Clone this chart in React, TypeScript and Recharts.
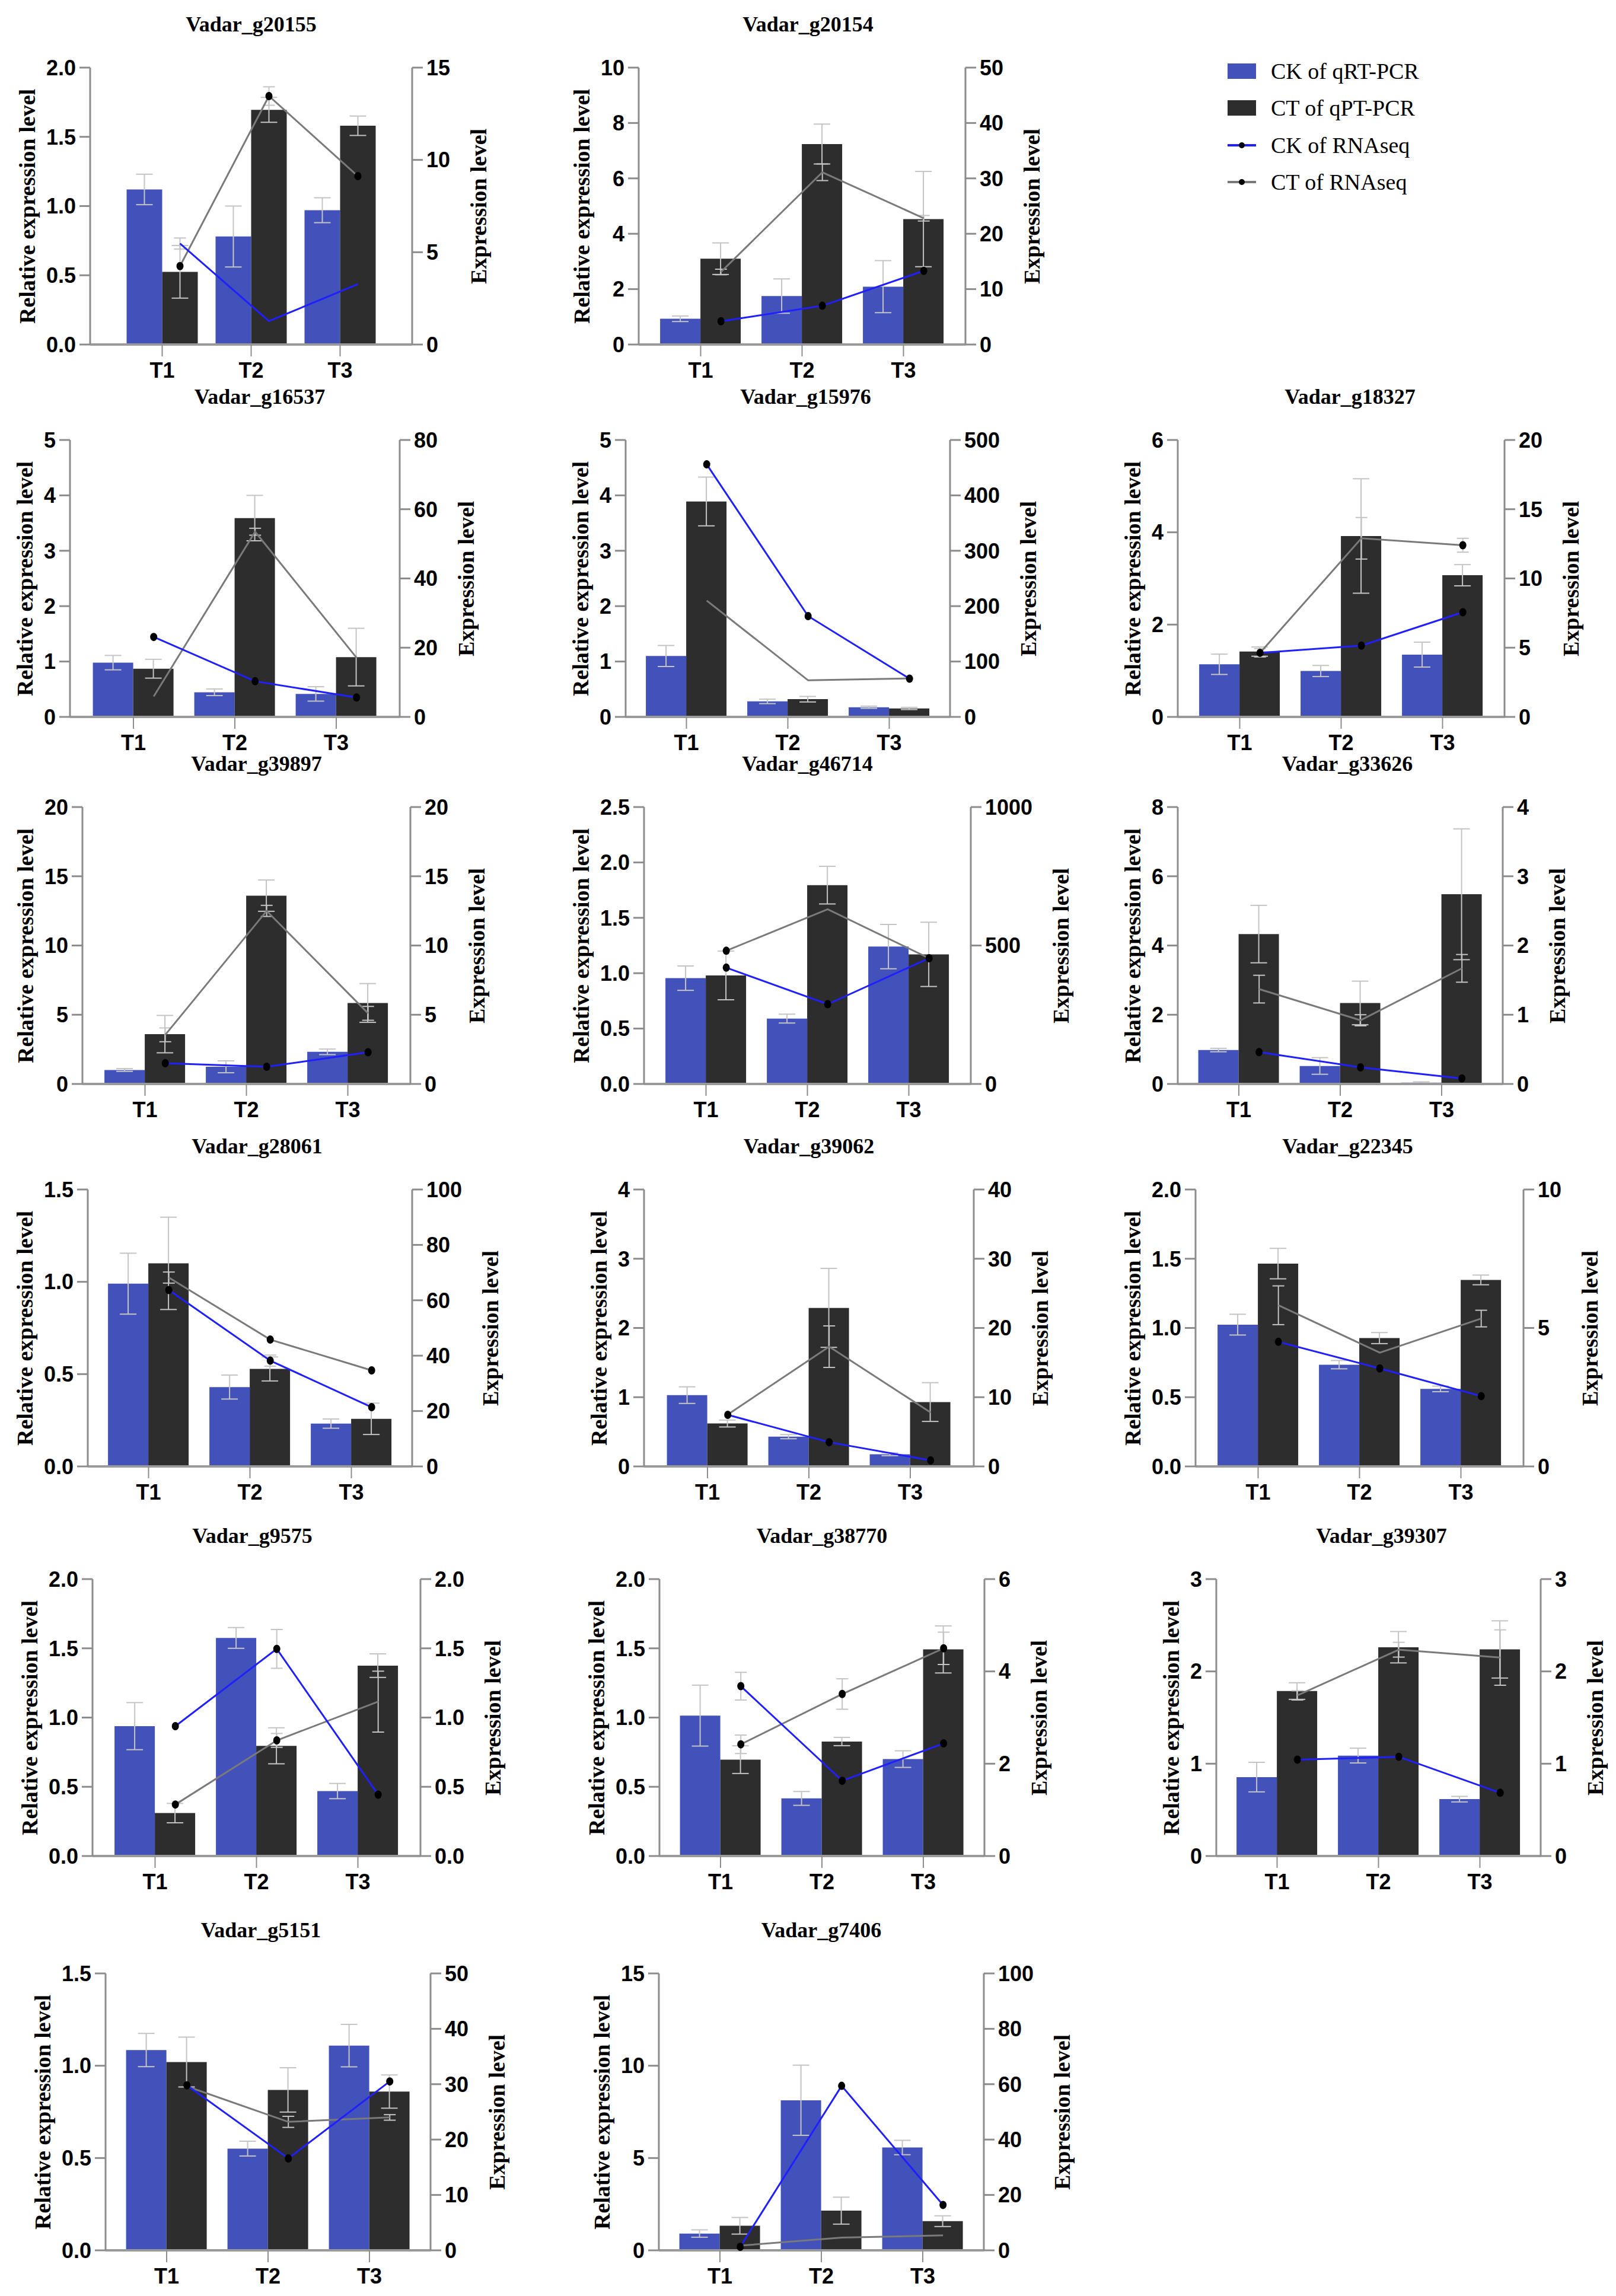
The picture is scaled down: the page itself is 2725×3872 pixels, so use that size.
import { ComposedChart, Bar, Line, XAxis, YAxis, ErrorBar } from 'recharts'

const periods = ['T1', 'T2', 'T3']

const genes = [
  'Vadar_g20155', 'Vadar_g20154', 'Vadar_g16537', 'Vadar_g15976', 'Vadar_g18327',
  'Vadar_g39897', 'Vadar_g46714', 'Vadar_g33626', 'Vadar_g28061', 'Vadar_g39062',
  'Vadar_g22345', 'Vadar_g9575', 'Vadar_g38770', 'Vadar_g39307', 'Vadar_g5151', 'Vadar_g7406',
]

// CK of qRT-PCR (left axis)
const ckQpcr = [
  [1.12, 0.78, 0.97], [0.93, 1.75, 2.09], [0.98, 0.445, 0.415], [1.1, 0.28, 0.175],
  [1.14, 0.995, 1.35], [1.01, 1.24, 2.32], [0.955, 0.59, 1.24], [0.98, 0.52, 0.04],
  [0.99, 0.43, 0.232], [1.03, 0.43, 0.175], [1.024, 0.735, 0.56], [0.938, 1.575, 0.469],
  [1.014, 0.416, 0.7], [0.855, 1.088, 0.616], [1.085, 0.551, 1.109], [0.91, 8.13, 5.57],
]
const ckQpcrErr = [
  [0.11, 0.22, 0.09], [0.1, 0.62, 0.94], [0.13, 0.06, 0.13], [0.19, 0.04, 0.02],
  [0.22, 0.12, 0.27], [0.1, 0.43, 0.2], [0.11, 0.04, 0.2], [0.05, 0.24, 0.02],
  [0.165, 0.065, 0.025], [0.12, 0.03, 0.02], [0.075, 0.03, 0.02], [0.17, 0.075, 0.055],
  [0.22, 0.05, 0.06], [0.16, 0.08, 0.03], [0.09, 0.04, 0.115], [0.2, 1.9, 0.39],
]

// CT of qPT-PCR (left axis)
const ctQpcr = [
  [0.525, 1.695, 1.58], [3.1, 7.24, 4.53], [0.87, 3.59, 1.08], [3.89, 0.32, 0.153],
  [1.415, 3.92, 3.07], [3.6, 13.6, 5.85], [0.98, 1.795, 1.17], [4.33, 2.34, 5.48],
  [1.1, 0.528, 0.258], [0.62, 2.29, 0.93], [1.465, 0.927, 1.347], [0.31, 0.796, 1.375],
  [0.696, 0.827, 1.492], [1.787, 2.262, 2.238], [1.02, 0.869, 0.86], [1.33, 2.15, 1.58],
]
const ctQpcrErr = [
  [0.19, 0.09, 0.07], [0.57, 0.72, 1.72], [0.17, 0.41, 0.52], [0.44, 0.05, 0.02],
  [0.1, 1.24, 0.23], [1.35, 1.13, 1.4], [0.22, 0.17, 0.29], [0.83, 0.63, 1.89],
  [0.25, 0.065, 0.085], [0.05, 0.57, 0.28], [0.11, 0.04, 0.035], [0.07, 0.13, 0.085],
  [0.1, 0.03, 0.17], [0.09, 0.17, 0.31], [0.135, 0.12, 0.09], [0.45, 0.73, 0.29],
]

// CK of RNAseq (right axis)
const ckSeq = [
  [5.47, 1.27, 3.27], [4.2, 7.0, 13.3], [23.1, 10.3, 5.6], [456, 182, 69],
  [4.63, 5.15, 7.56], [1.5, 1.24, 2.29], [420, 288, 454], [0.46, 0.24, 0.08],
  [63.7, 38.2, 21.4], [7.45, 3.5, 0.87], [4.5, 3.54, 2.54], [0.938, 1.496, 0.443],
  [3.68, 1.63, 2.44], [1.044, 1.075, 0.685], [29.8, 16.6, 30.5], [1.3, 59.4, 16.4],
]
const ckSeqErr = [
  [0.3, 0, 0], [0, 0, 0], [0, 0, 0], [0, 0, 0],
  [0, 0, 0], [0, 0, 0], [0, 0, 0], [0, 0, 0],
  [0, 2, 0], [0, 0, 0], [0, 0, 0], [0, 0.14, 0],
  [0.3, 0, 0], [0, 0, 0], [0, 0, 0], [0, 0, 0],
]
// which CK points carry a marker in the figure
const ckSeqDot = [
  [0, 0, 0], [1, 1, 1], [1, 1, 1], [1, 1, 1], [1, 1, 1], [1, 1, 1], [1, 1, 1], [1, 1, 1],
  [1, 1, 1], [1, 1, 1], [1, 1, 1], [1, 1, 1], [1, 1, 1], [1, 1, 1], [1, 1, 1], [1, 1, 1],
]

// CT of RNAseq (right axis)
const ctSeq = [
  [4.25, 13.46, 9.12], [13.1, 31.1, 22.8], [5.9, 53.5, 17.1], [210, 66, 69.5],
  [4.63, 12.9, 12.4], [3.55, 12.5, 5.1], [481, 631, 454], [1.37, 0.92, 1.67],
  [68.2, 45.8, 34.7], [7.5, 17.3, 7.8], [5.82, 4.11, 5.34], [0.372, 0.835, 1.115],
  [2.42, 3.51, 4.5], [1.74, 2.235, 2.15], [29.6, 23.2, 24.0], [1.7, 4.6, 5.4],
]
const ctSeqErr = [
  [0, 0.5, 0], [0.5, 1.5, 0.5], [0, 1, 0], [0, 0, 0],
  [0.3, 1.5, 0.5], [0.5, 0.4, 0.5], [0, 0, 0], [0.2, 0.08, 0.2],
  [2, 0, 0], [0, 3, 0], [0.7, 0, 0.3], [0, 0.05, 0.22],
  [0.2, 0.33, 0.35], [0.05, 0.08, 0.3], [0, 1, 0.5], [0, 0, 0],
]
const ctSeqDot = [
  [1, 1, 1], [0, 0, 0], [0, 0, 0], [0, 0, 0], [0, 0, 1], [0, 0, 0], [1, 0, 0], [0, 0, 0],
  [0, 1, 1], [0, 0, 0], [0, 0, 0], [1, 1, 0], [1, 1, 1], [0, 0, 0], [0, 0, 0], [0, 0, 0],
]

const leftTicks = [
  [0, 0.5, 1, 1.5, 2], [0, 2, 4, 6, 8, 10], [0, 1, 2, 3, 4, 5], [0, 1, 2, 3, 4, 5],
  [0, 2, 4, 6], [0, 5, 10, 15, 20], [0, 0.5, 1, 1.5, 2, 2.5], [0, 2, 4, 6, 8],
  [0, 0.5, 1, 1.5], [0, 1, 2, 3, 4], [0, 0.5, 1, 1.5, 2], [0, 0.5, 1, 1.5, 2],
  [0, 0.5, 1, 1.5, 2], [0, 1, 2, 3], [0, 0.5, 1, 1.5], [0, 5, 10, 15],
]
const rightTicks = [
  [0, 5, 10, 15], [0, 10, 20, 30, 40, 50], [0, 20, 40, 60, 80], [0, 100, 200, 300, 400, 500],
  [0, 5, 10, 15, 20], [0, 5, 10, 15, 20], [0, 500, 1000], [0, 1, 2, 3, 4],
  [0, 20, 40, 60, 80, 100], [0, 10, 20, 30, 40], [0, 5, 10], [0, 0.5, 1, 1.5, 2],
  [0, 2, 4, 6], [0, 1, 2, 3], [0, 10, 20, 30, 40, 50], [0, 20, 40, 60, 80, 100],
]

const legendItems = ['CK of qRT-PCR', 'CT of qPT-PCR', 'CK of RNAseq', 'CT of RNAseq']

const BLUE_BAR = '#4352ba'
const DARK_BAR = '#2d2d2d'
const BLUE_LINE = '#1f1fff'
const GRAY_LINE = '#7a7a7a'
const ERR = '#c4c4c4'
const AXIS = '#8c8c8c'

// layout (page pixels): plot box of each panel
const rowTops = [114, 742, 1361, 2006, 2663, 3328]
const plotLeft = [152, 1077, 118, 1055, 1986, 139, 1086, 1986, 148, 1086, 2016, 156, 1112, 2051, 178, 1111]
const plotRight = [695, 1628, 674, 1602, 2537, 692, 1637, 2534, 695, 1642, 2569, 709, 1660, 2598, 726, 1659]
const bandWidth = [150, 171, 171, 171, 171, 171, 171, 171, 171, 171, 171, 171, 171, 171, 171, 171]
const titleShift = [0, 10, 42, 30, 15, 17, 0, 12, 12, 0, -20, -7, 0, 5, -12, 0]
const H = 467
const PAD_L = 200
const PAD_R = 200
const PAD_T = 110
const PAD_B = 80

const sans = '"Liberation Sans", Arial, sans-serif'
const serif = '"Liberation Serif", "Times New Roman", serif'
const tickStyle = { fontSize: 36, fontWeight: 700, fill: '#000', fontFamily: sans }

const decimals = (ticks: number[]) => (ticks.some((t) => !Number.isInteger(t)) ? 1 : 0)
// rough width of a bold 36px tick label
const labelWidth = (ticks: number[]) => {
  const d = decimals(ticks)
  return Math.max(...ticks.map((t) => t.toFixed(d).split('').reduce((s, c) => s + (c === '.' ? 10 : 20), 0)))
}

const makeDot = (flags: number[]) => (props: any) => {
  const { cx, cy, index } = props
  if (!flags[index] || cx == null || cy == null) return <g key={`d-${index}`} />
  return <ellipse key={`d-${index}`} cx={cx} cy={cy} rx={6} ry={7} fill="#000" />
}

function Panel({ i }: { i: number }) {
  const row = i < 2 ? 0 : 1 + Math.floor((i - 2) / 3)
  const W = plotRight[i] - plotLeft[i]
  const catPad = (W - 3 * bandWidth[i]) / 2
  const shift = bandWidth[i] * 0.2
  const data = periods.map((t, k) => ({
    t,
    ck: ckQpcr[i][k], ckE: ckQpcrErr[i][k],
    ct: ctQpcr[i][k], ctE: ctQpcrErr[i][k],
    cks: ckSeq[i][k], cksE: ckSeqErr[i][k],
    cts: ctSeq[i][k], ctsE: ctSeqErr[i][k],
  }))
  const lt = leftTicks[i]
  const rt = rightTicks[i]
  const label = {
    position: 'absolute' as const, whiteSpace: 'nowrap' as const, fontFamily: serif,
    fontWeight: 700, fontSize: 38, lineHeight: 1, color: '#000',
  }
  return (
    <div style={{ position: 'absolute', left: plotLeft[i] - PAD_L, top: rowTops[row] - PAD_T, width: PAD_L + W + PAD_R, height: PAD_T + H + PAD_B }}>
      <div style={{ ...label, fontSize: 36, left: PAD_L + W / 2 + titleShift[i], top: PAD_T - 73, transform: 'translate(-50%, -50%)' }}>{genes[i]}</div>
      <div style={{ ...label, left: PAD_L - 56 - labelWidth(lt), top: PAD_T + H / 2, transform: 'translate(-50%, -50%) rotate(-90deg)' }}>Relative expression level</div>
      <div style={{ ...label, left: PAD_L + W + 72 + labelWidth(rt), top: PAD_T + H / 2, transform: 'translate(-50%, -50%) rotate(-90deg)' }}>Expression level</div>
      <ComposedChart
        width={PAD_L + W + PAD_R}
        height={PAD_T + H + PAD_B}
        data={data}
        margin={{ top: PAD_T, right: 0, bottom: 0, left: 0 }}
        barCategoryGap="10%"
        barGap={0}
        style={{ position: 'absolute', left: 0, top: 0 }}
      >
        <XAxis
          xAxisId="bar"
          dataKey="t"
          height={PAD_B}
          padding={{ left: catPad, right: catPad }}
          tick={tickStyle}
          tickSize={20}
          tickMargin={10}
          axisLine={{ stroke: '#9a9a9a', strokeWidth: 4 }}
          tickLine={{ stroke: AXIS, strokeWidth: 2 }}
        />
        <XAxis xAxisId="line" dataKey="t" hide padding={{ left: catPad + shift, right: catPad - shift }} />
        <YAxis
          yAxisId="left"
          width={PAD_L}
          domain={[0, lt[lt.length - 1]]}
          ticks={lt}
          interval={0}
          tickFormatter={(v: number) => v.toFixed(decimals(lt))}
          tick={tickStyle}
          tickSize={18}
          tickMargin={6}
          axisLine={{ stroke: AXIS, strokeWidth: 3 }}
          tickLine={{ stroke: AXIS, strokeWidth: 3 }}
        />
        <YAxis
          yAxisId="right"
          orientation="right"
          width={PAD_R}
          domain={[0, rt[rt.length - 1]]}
          ticks={rt}
          interval={0}
          tickFormatter={(v: number) => v.toFixed(decimals(rt))}
          tick={tickStyle}
          tickSize={18}
          tickMargin={6}
          axisLine={{ stroke: AXIS, strokeWidth: 3 }}
          tickLine={{ stroke: AXIS, strokeWidth: 3 }}
        />
        <Bar xAxisId="bar" yAxisId="left" dataKey="ck" fill={BLUE_BAR} isAnimationActive={false}>
          <ErrorBar dataKey="ckE" width={14} stroke={ERR} strokeWidth={2} />
        </Bar>
        <Bar xAxisId="bar" yAxisId="left" dataKey="ct" fill={DARK_BAR} isAnimationActive={false}>
          <ErrorBar dataKey="ctE" width={14} stroke={ERR} strokeWidth={2} />
        </Bar>
        <Line xAxisId="line" yAxisId="right" dataKey="cts" stroke={GRAY_LINE} strokeWidth={3}
          dot={makeDot(ctSeqDot[i])} activeDot={false} isAnimationActive={false}>
          <ErrorBar dataKey="ctsE" width={10} stroke={ERR} strokeWidth={2} />
        </Line>
        <Line xAxisId="line" yAxisId="right" dataKey="cks" stroke={BLUE_LINE} strokeWidth={3}
          dot={makeDot(ckSeqDot[i])} activeDot={false} isAnimationActive={false}>
          <ErrorBar dataKey="cksE" width={10} stroke={ERR} strokeWidth={2} />
        </Line>
      </ComposedChart>
    </div>
  )
}

function Legend() {
  const colors = [BLUE_BAR, DARK_BAR, BLUE_LINE, GRAY_LINE]
  const tops = [120, 182, 245, 307]
  return (
    <>
      {legendItems.map((name, k) => (
        <div key={name} style={{ position: 'absolute', left: 2070, top: tops[k] - 25, height: 50, display: 'flex', alignItems: 'center' }}>
          <svg width={48} height={50}>
            {k < 2 ? (
              <rect x={0} y={12} width={48} height={26} fill={colors[k]} />
            ) : (
              <>
                <line x1={0} y1={25} x2={48} y2={25} stroke={colors[k]} strokeWidth={4} />
                <circle cx={24} cy={25} r={5} fill="#000" />
              </>
            )}
          </svg>
          <span style={{ marginLeft: 25, fontFamily: serif, fontSize: 38, color: '#000', whiteSpace: 'nowrap' }}>{name}</span>
        </div>
      ))}
    </>
  )
}

export default function App() {
  return (
    <div style={{ position: 'absolute', left: 0, top: 0, width: 2725, height: 3872, background: '#fff', overflow: 'hidden' }}>
      {genes.map((g, i) => (
        <Panel key={g} i={i} />
      ))}
      <Legend />
    </div>
  )
}
